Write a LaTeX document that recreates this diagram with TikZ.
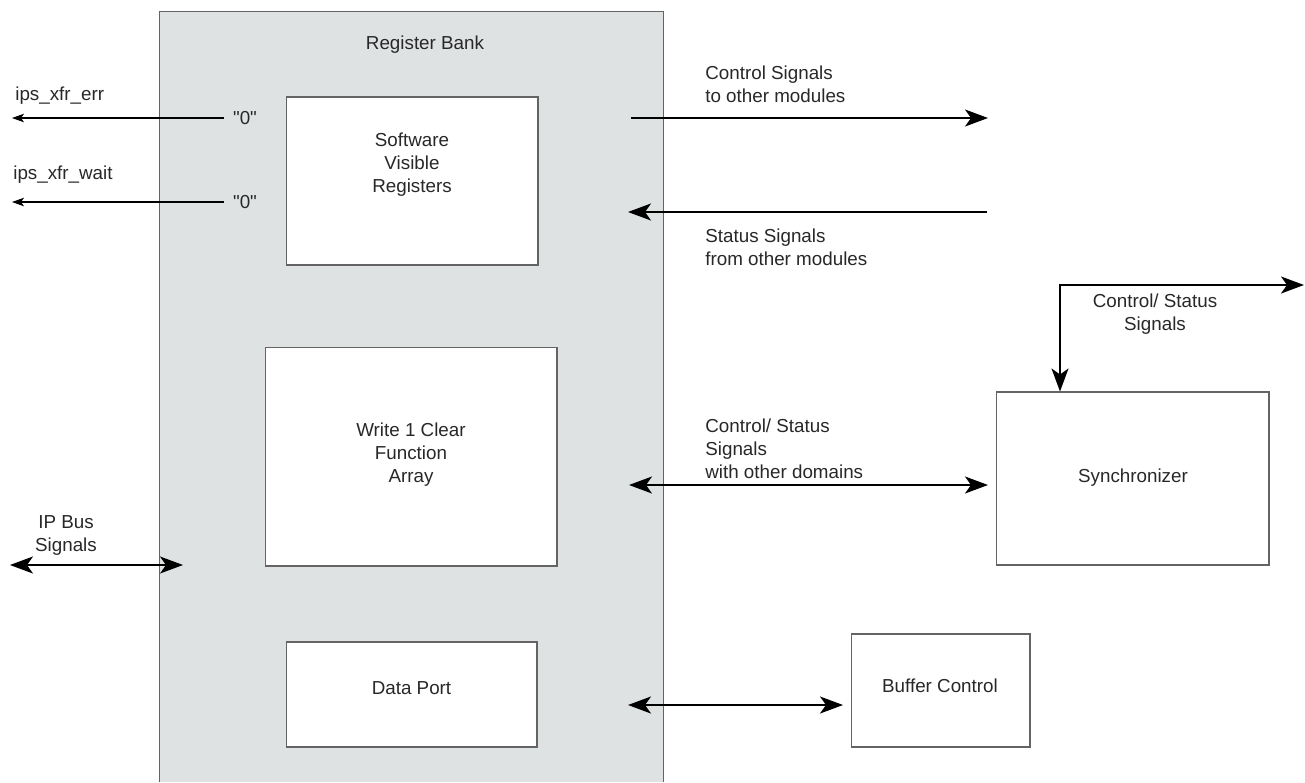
\documentclass[tikz,border=0pt]{standalone}
\usepackage{fontspec}
\setmainfont{Liberation Sans}
\usetikzlibrary{arrows.meta,positioning}
\definecolor{bankgray}{RGB}{223,226,227}
\definecolor{edgegray}{RGB}{100,100,100}
\definecolor{txt}{RGB}{40,40,40}
\tikzset{
  blk/.style={rectangle,draw=edgegray,fill=white,line width=.6pt,inner sep=0pt},
  lab/.style={text=txt,font=\fontsize{10.7}{13.1}\selectfont,inner sep=0pt},
  labl/.style={lab,align=left,anchor=west},
  labc/.style={lab,align=center},
  sig/.style={line width=1.1pt,black,-{Stealth[length=4.6mm,width=3.4mm,inset=1.2mm]}},
  sigd/.style={line width=1.1pt,black,{Stealth[length=4.6mm,width=3.4mm,inset=1.2mm]}-{Stealth[length=4.6mm,width=3.4mm,inset=1.2mm]}},
  thin/.style={line width=.6pt,black,-{Stealth[length=2.4mm,width=1.7mm,inset=.6mm]}}
}
\begin{document}
\begin{tikzpicture}[x=0.02cm,y=-0.02cm]
  \useasboundingbox[fill=white] (0,0) rectangle (1305,782);

  % register bank, open at the bottom
  \node[rectangle,fill=bankgray,minimum width=10.06cm,minimum height=15.4cm,inner sep=0pt] (bank) at (411.5,397) {};
  \draw[edgegray,line width=.6pt] (bank.south west)--(bank.north west)--(bank.north east)--(bank.south east);
  \node[labc] (banktxt) at (425,45) {Register Bank};

  \node[blk,minimum width=5.04cm,minimum height=3.36cm] (swreg) at (412,181) {};
  \node[labc] (swregtxt) at (412,165) {Software\\Visible\\Registers};
  \node[blk,minimum width=5.84cm,minimum height=4.38cm] (wclr) at (411,456.5) {};
  \node[labc] (wclrtxt) at (411,455) {Write 1 Clear\\Function\\Array};
  \node[blk,minimum width=5.02cm,minimum height=2.1cm] (dport) at (411.5,694.5) {};
  \node[labc] (dporttxt) at (411.5,688) {Data Port};

  \node[blk,minimum width=5.46cm,minimum height=3.46cm] (sync) at (1132.5,478.5) {};
  \node[labc] (synctxt) at (1133,478) {Synchronizer};
  \node[blk,minimum width=3.58cm,minimum height=2.26cm] (bufctl) at (940.5,690.5) {};
  \node[labc] (bufctltxt) at (940,686) {Buffer Control};

  % tie-offs
  \node[lab,inner xsep=5pt] (zero1) at (245,118) {\textquotedbl 0\textquotedbl};
  \node[lab,inner xsep=5pt] (zero2) at (245,202) {\textquotedbl 0\textquotedbl};
  \coordinate (errend) at (12,118);
  \coordinate (waitend) at (12,202);
  \draw[thin] (zero1.west) -- (errend);
  \draw[thin] (zero2.west) -- (waitend);
  \node[labl] (errtxt) at (15,96) {ips\_xfr\_err};
  \node[labl] (waittxt) at (13,175) {ips\_xfr\_wait};

  % ip bus
  \coordinate (ipl) at (10,565);
  \coordinate (ipr) at (183,565);
  \draw[sigd] (ipl) -- (ipr);
  \node[labc] (iptxt) at (66,535) {IP Bus\\Signals};

  % module side
  \coordinate (ctrlA) at (631,118);
  \coordinate (ctrlB) at (988,118);
  \draw[sig] (ctrlA) -- (ctrlB);
  \node[labl] (ctrltxt) at (705,84.5) {Control Signals\\to other modules};

  \coordinate (statA) at (987,212);
  \coordinate (statB) at (628,212);
  \draw[sig] (statA) -- (statB);
  \node[labl] (stattxt) at (705,247.5) {Status Signals\\from other modules};

  \coordinate (csA) at (629,485);
  \coordinate (csB) at (988,485);
  \draw[sigd] (csA) -- (csB);
  \node[labl] (cstxt) at (705,448.5) {Control/ Status\\Signals\\with other domains};

  \coordinate (corner) at (1060,285);
  \coordinate (csout) at (1304,285);
  \draw[sigd] (sync.north -| corner) -- (corner) -- (csout);
  \node[labc] (cs2txt) at (1155,314.5) {Control/ Status\\Signals};

  \coordinate (dpA) at (628,705);
  \coordinate (dpB) at (843,705);
  \draw[sigd] (dpA) -- (dpB);
\end{tikzpicture}
\end{document}
